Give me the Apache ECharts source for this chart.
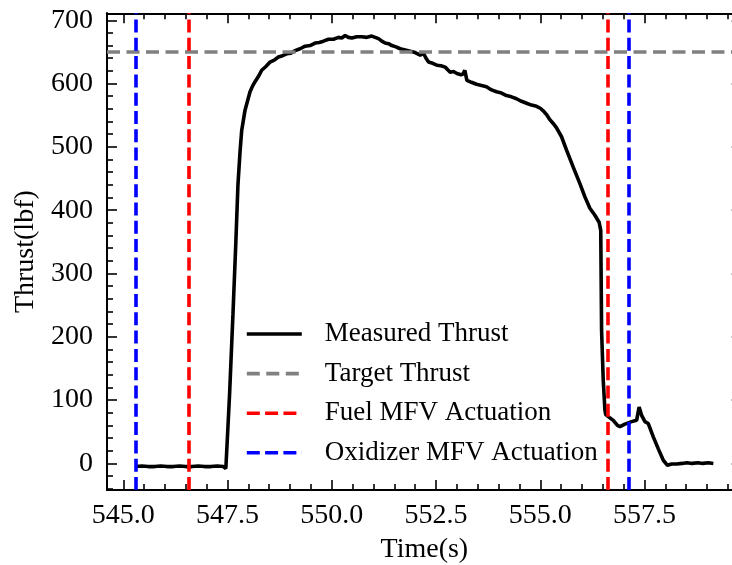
<!DOCTYPE html>
<html>
<head>
<meta charset="utf-8">
<script src="https://cdn.jsdelivr.net/npm/echarts@6/dist/echarts.min.js"></script>
<style>
html,body{margin:0;padding:0;background:#fff;}
#chart{width:732px;height:565px;}
</style>
</head>
<body>
<div id="chart"></div>
<script>
// ---- data ----
const timeS = [
  545.30, 545.45, 545.60, 545.75, 545.90, 546.05, 546.20, 546.35, 546.50, 546.65,
  546.80, 546.95, 547.10, 547.25, 547.40, 547.46,
  547.55, 547.63, 547.70, 547.75, 547.80, 547.84, 547.92, 548.04, 548.10, 548.16,
  548.24, 548.32, 548.42, 548.52, 548.62, 548.72, 548.82, 548.92, 549.02, 549.12,
  549.24, 549.36, 549.48, 549.60, 549.70, 549.80, 549.92, 550.04, 550.16, 550.24,
  550.32, 550.40, 550.48, 550.60, 550.72, 550.84, 550.96, 551.04, 551.12, 551.20,
  551.28, 551.36, 551.44, 551.54, 551.64, 551.76, 551.88, 552.00, 552.12, 552.20,
  552.26, 552.32, 552.42, 552.52, 552.62, 552.72, 552.78, 552.84, 552.92, 553.00,
  553.10, 553.15, 553.19, 553.24, 553.35, 553.47, 553.59, 553.71, 553.83, 553.95,
  554.07, 554.19, 554.31, 554.43, 554.55, 554.67, 554.79, 554.91, 555.00, 555.07,
  555.15, 555.23, 555.31, 555.39, 555.51, 555.63, 555.79, 555.95, 556.07, 556.19,
  556.31, 556.41, 556.45, 556.47, 556.51, 556.55, 556.57, 556.63, 556.75,
  556.85, 556.91, 557.03, 557.19, 557.31, 557.37, 557.43, 557.51, 557.59, 557.71,
  557.83, 557.95, 558.05, 558.15, 558.27, 558.40, 558.52, 558.64, 558.78, 558.90,
  559.03, 559.15
];
const thrustLbf = [
  -5, -4, -5, -5, -4, -5, -5, -4, -5, -5,
  -4, -5, -5, -4, -5, -8,
  110, 235, 350, 440, 492, 526, 558, 587, 596, 603,
  611, 621, 627, 634, 637, 642, 644, 647, 648, 652,
  655, 659, 660, 664, 665, 667, 670, 670, 673, 672,
  676, 673, 672, 674, 674, 673, 675, 673, 671, 667,
  664, 663, 660, 658, 655, 653, 651, 649, 645, 648,
  640, 634, 632, 629, 628, 626, 622, 618, 619, 616,
  614, 615, 621, 605, 602, 599, 597, 595, 590, 587,
  585, 581, 579, 576, 572, 569, 566, 564, 561, 557,
  551, 543, 537, 530, 516, 495, 468, 442, 421, 403,
  392, 381, 368, 210, 131, 84, 77, 74, 68,
  60, 58, 62, 66, 68, 89, 76, 66, 63, 42,
  23, 5, -3, -1, -1, 0, 1, 0, 1, 0,
  1, 0
];
const targetThrust = 650;
const fuelMfvTimes = [546.56, 556.62];
const oxidizerMfvTimes = [545.30, 557.12];
const xMajorTicks = [545.0, 547.5, 550.0, 552.5, 555.0, 557.5];
const xMinorTicks = [545.5, 546.0, 546.5, 547.0, 548.0, 548.5, 549.0, 549.5, 550.5, 551.0, 551.5, 552.0,
  553.0, 553.5, 554.0, 554.5, 555.5, 556.0, 556.5, 557.0, 558.0, 558.5, 559.0, 559.5];
const yMajorTicks = [0, 100, 200, 300, 400, 500, 600, 700];
const yMinorTicks = [-40, -20, 20, 40, 60, 80, 120, 140, 160, 180, 220, 240, 260, 280, 320, 340, 360, 380,
  420, 440, 460, 480, 520, 540, 560, 580, 620, 640, 660, 680];

const X_MIN = 544.61, X_MAX = 559.83, Y_MIN = -42, Y_MAX = 711;
const FONT = 'Liberation Serif';
const FS = 28;
const LEGEND_FS = 27;
const LW = 3.6;

const measured = timeS.map((t, i) => [t, thrustLbf[i]]);

function xAxisDef(pos, ticks, len, labels, extra) {
  return Object.assign({
    type: 'value', position: pos, min: X_MIN, max: X_MAX, gridIndex: 0,
    axisLine: { show: true, onZero: false, lineStyle: { color: '#000', width: 2 } },
    axisTick: { show: true, inside: true, length: len, customValues: ticks, lineStyle: { color: '#000', width: 1.6 } },
    axisLabel: labels ? { show: true, customValues: ticks, formatter: v => Number(v).toFixed(1), fontFamily: FONT, fontSize: FS, color: '#000', margin: 12 } : { show: false },
    splitLine: { show: false }, minorTick: { show: false }
  }, extra || {});
}
function yAxisDef(pos, ticks, len, labels, extra) {
  return Object.assign({
    type: 'value', position: pos, min: Y_MIN, max: Y_MAX, gridIndex: 0,
    axisLine: { show: true, onZero: false, lineStyle: { color: '#000', width: 2 } },
    axisTick: { show: true, inside: true, length: len, customValues: ticks, lineStyle: { color: '#000', width: 1.6 } },
    axisLabel: labels ? { show: true, customValues: ticks, formatter: v => String(Math.round(v)), fontFamily: FONT, fontSize: FS, color: '#000', margin: 14 } : { show: false },
    splitLine: { show: false }, minorTick: { show: false }
  }, extra || {});
}

const chart = echarts.init(document.getElementById('chart'), null, { renderer: 'canvas' });
chart.setOption({
  animation: false,
  backgroundColor: '#fff',
  grid: { left: 107, top: 13.3, width: 634.7, height: 476.7, containLabel: false, outerBoundsMode: 'none' },
  xAxis: [
    xAxisDef('bottom', xMajorTicks, 10, true, {
      name: 'Time(s)', nameLocation: 'middle', nameGap: 46,
      nameTextStyle: { fontFamily: FONT, fontSize: FS, color: '#000' }
    }),
    xAxisDef('bottom', xMinorTicks, 6, false),
    xAxisDef('top', xMajorTicks, 10, false),
    xAxisDef('top', xMinorTicks, 6, false)
  ],
  yAxis: [
    yAxisDef('left', yMajorTicks, 10, true, {
      name: 'Thrust(lbf)', nameLocation: 'middle', nameGap: 66,
      nameTextStyle: { fontFamily: FONT, fontSize: FS, color: '#000' }
    }),
    yAxisDef('left', yMinorTicks, 6, false),
    yAxisDef('right', yMajorTicks, 10, false),
    yAxisDef('right', yMinorTicks, 6, false)
  ],
  legend: {
    orient: 'vertical', left: 245, top: 320.5, padding: 0,
    itemWidth: 55, itemHeight: 20, itemGap: 12.6,
    itemStyle: { opacity: 0 },
    lineStyle: { width: LW },
    textStyle: { fontFamily: FONT, fontSize: LEGEND_FS, color: '#000', padding: [0, 0, 0, 18] },
    data: ['Measured Thrust', 'Target Thrust', 'Fuel MFV Actuation', 'Oxidizer MFV Actuation']
  },
  series: [
    {
      name: 'Measured Thrust', type: 'line', xAxisIndex: 0, yAxisIndex: 0,
      data: measured, symbol: 'none', showSymbol: false,
      lineStyle: { color: '#000', width: LW }, itemStyle: { color: '#000' }, z: 2
    },
    {
      name: 'Target Thrust', type: 'line', xAxisIndex: 0, yAxisIndex: 0, data: [],
      symbol: 'none', lineStyle: { color: '#808080', width: LW, type: [13, 6.5] }, itemStyle: { color: '#808080' }, z: 3,
      markLine: { silent: true, symbol: ['none', 'none'], label: { show: false },
        lineStyle: { color: '#808080', width: LW, type: [13, 6.5] },
        data: [{ yAxis: targetThrust }] }
    },
    {
      name: 'Fuel MFV Actuation', type: 'line', xAxisIndex: 0, yAxisIndex: 0, data: [],
      symbol: 'none', lineStyle: { color: '#ff0000', width: LW, type: [13, 5.3] }, itemStyle: { color: '#ff0000' }, z: 4,
      markLine: { silent: true, symbol: ['none', 'none'], label: { show: false },
        lineStyle: { color: '#ff0000', width: LW, type: [13, 5.3] },
        data: fuelMfvTimes.map(t => ({ xAxis: t })) }
    },
    {
      name: 'Oxidizer MFV Actuation', type: 'line', xAxisIndex: 0, yAxisIndex: 0, data: [],
      symbol: 'none', lineStyle: { color: '#0000ff', width: LW, type: [13, 5.3] }, itemStyle: { color: '#0000ff' }, z: 5,
      markLine: { silent: true, symbol: ['none', 'none'], label: { show: false },
        lineStyle: { color: '#0000ff', width: LW, type: [13, 5.3] },
        data: oxidizerMfvTimes.map(t => ({ xAxis: t })) }
    }
  ]
});
</script>
</body>
</html>
